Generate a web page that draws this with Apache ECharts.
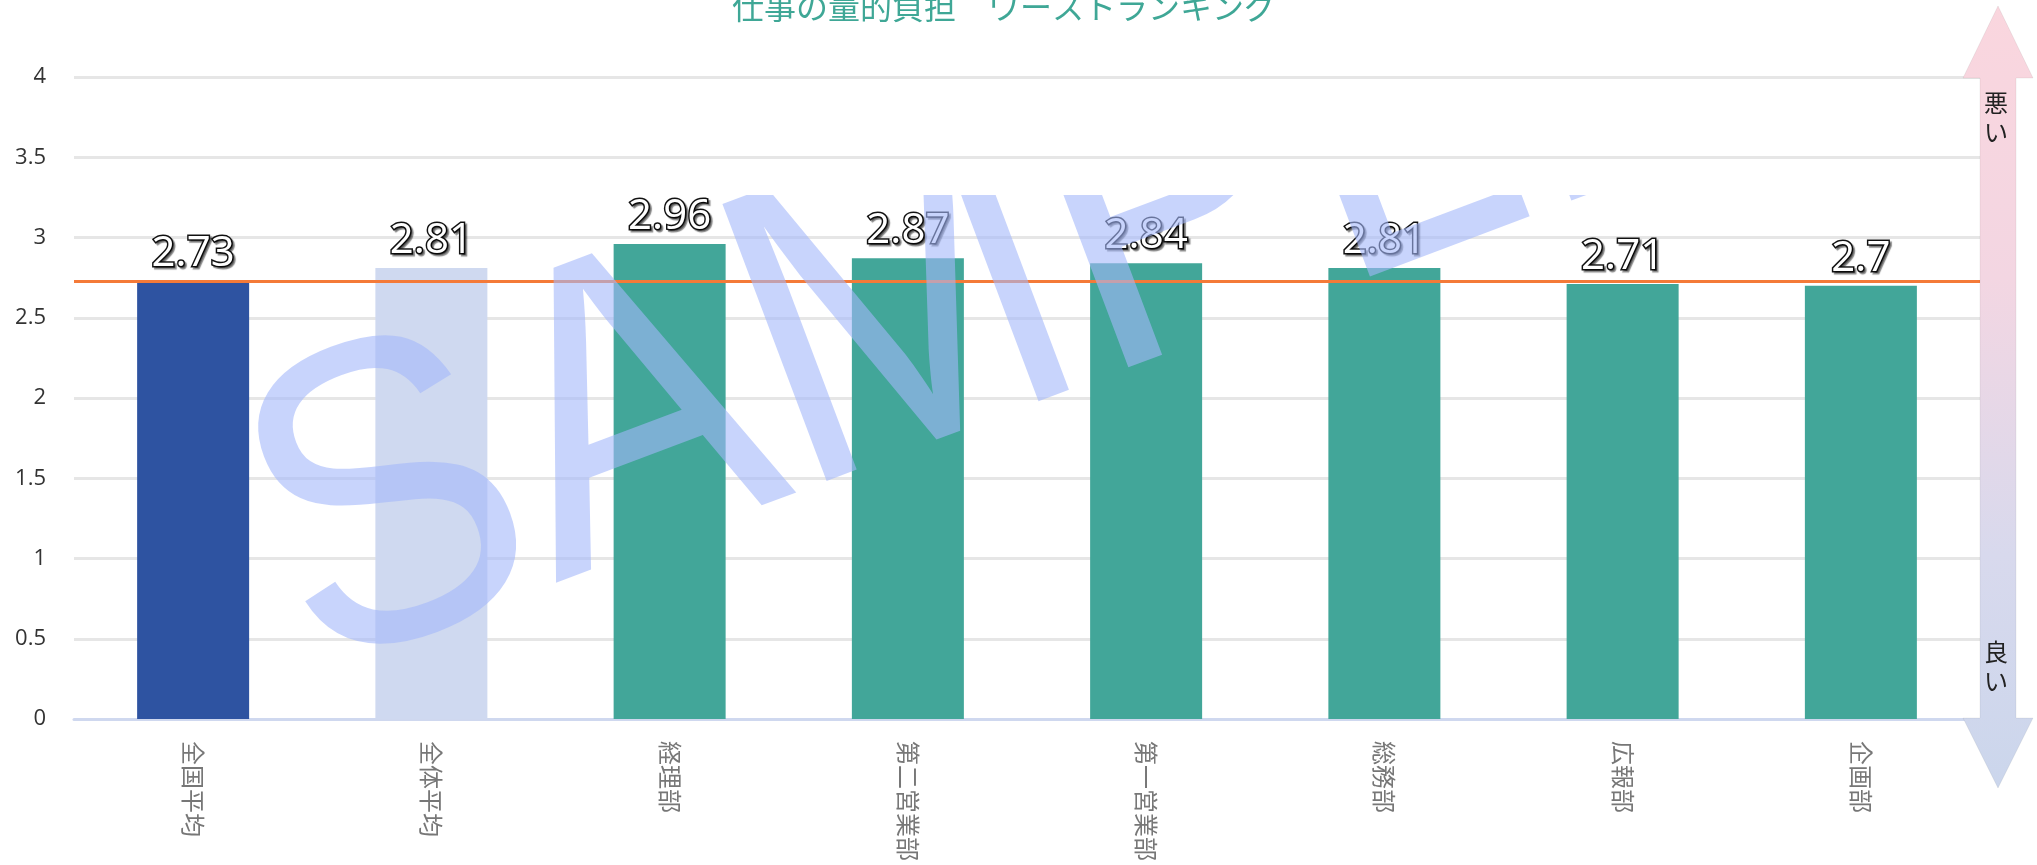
<!DOCTYPE html>
<html>
<head>
<meta charset="utf-8">
<script src="https://cdn.jsdelivr.net/npm/echarts@6/dist/echarts.min.js"></script>
<style>
  html, body { margin: 0; padding: 0; background: #fff; }
  #wrap { position: relative; width: 2037px; height: 865px; }
  #chart { position: absolute; left: 0; top: 0; width: 2037px; height: 865px; }
  #mark { position: absolute; left: 0; top: 195px; width: 2037px; height: 670px; pointer-events: none; }
</style>
</head>
<body>
<div id="wrap">
  <div id="chart"></div>
  <div id="mark"></div>
</div>
<script>
// 仕事の量的負担 ワーストランキング
const categories = ['全国平均', '全体平均', '経理部', '第二営業部', '第一営業部', '総務部', '広報部', '企画部']
const scores = [2.73, 2.81, 2.96, 2.87, 2.84, 2.81, 2.71, 2.7]
const nationalAverage = 2.73
const yMin = 0
const yMax = 4
const yStep = 0.5

const barColor = (i) => (i === 0 ? '#2e53a1' : i === 1 ? '#cfd9f0' : '#42a699')

const chart = echarts.init(document.getElementById('chart'))
chart.setOption({
  animation: false,
  title: {
    text: '仕事の量的負担　ワーストランキング',
    left: 727,
    top: -14,
    textStyle: {
      fontFamily: 'Noto Sans CJK JP',
      fontSize: 32,
      fontWeight: 'normal',
      color: '#3fa796'
    }
  },
  grid: {
    left: 74,
    right: 57,
    top: 77,
    bottom: 146
  },
  xAxis: {
    type: 'category',
    data: categories,
    axisTick: { show: false },
    axisLine: { lineStyle: { color: '#cfd8ef', width: 3 } },
    axisLabel: {
      rotate: -90,
      margin: 22,
      fontFamily: 'Noto Sans CJK JP',
      fontSize: 24,
      color: '#777'
    }
  },
  yAxis: {
    type: 'value',
    min: yMin,
    max: yMax,
    interval: yStep,
    axisLine: { show: false },
    axisTick: { show: false },
    axisLabel: {
      margin: 28,
      fontFamily: 'Open Sans',
      fontSize: 22,
      color: '#333'
    },
    splitLine: { lineStyle: { color: '#e6e6e6', width: 3 } }
  },
  series: [
    {
      type: 'bar',
      barWidth: 112,
      data: scores.map((v, i) => ({ value: v, itemStyle: { color: barColor(i) } })),
      label: {
        show: true,
        position: 'top',
        distance: 6,
        fontFamily: 'Open Sans',
        fontSize: 42,
        color: '#fff',
        textBorderColor: '#111',
        textBorderWidth: 3,
        textShadowColor: 'rgba(0,0,0,0.45)',
        textShadowOffsetX: 2,
        textShadowOffsetY: 2,
        textShadowBlur: 1
      },
      markLine: {
        silent: true,
        symbol: 'none',
        label: { show: false },
        lineStyle: { color: '#f47a38', width: 3, type: 'solid' },
        data: [{ yAxis: nationalAverage }]
      }
    }
  ],
  graphic: [
    {
      type: 'polygon',
      z: 10,
      shape: {
        points: [
          [1998, 6], [2033, 78], [2016, 78], [2016, 718], [2033, 718],
          [1998, 788], [1963, 718], [1980, 718], [1980, 78], [1963, 78]
        ]
      },
      style: {
        fill: new echarts.graphic.LinearGradient(0, 0, 0, 1, [
          { offset: 0, color: '#fad6de' },
          { offset: 0.35, color: '#f3d6e2' },
          { offset: 0.7, color: '#d8d9ed' },
          { offset: 1, color: '#cbd6ec' }
        ]),
        stroke: 'rgba(0,0,0,0.06)',
        lineWidth: 1
      }
    },
    {
      type: 'text',
      z: 11,
      x: 1996,
      y: 88,
      style: {
        text: '悪\nい',
        font: '24px "Noto Sans CJK JP"',
        lineHeight: 29,
        fill: '#222',
        align: 'center'
      }
    },
    {
      type: 'text',
      z: 11,
      x: 1996,
      y: 637,
      style: {
        text: '良\nい',
        font: '24px "Noto Sans CJK JP"',
        lineHeight: 29,
        fill: '#222',
        align: 'center'
      }
    }
  ]
})

// watermark overlay, clipped at its top edge by the container
const mark = echarts.init(document.getElementById('mark'))
mark.setOption({
  animation: false,
  graphic: [
    {
      type: 'text',
      x: 272,
      y: 368,
      rotation: 0.36,
      scaleX: 0.9,
      silent: true,
      style: {
        text: 'SAMPLE',
        font: '430px "Liberation Sans"',
        fill: 'rgba(163,183,250,0.6)',
        align: 'left',
        verticalAlign: 'middle'
      }
    }
  ]
})
</script>
</body>
</html>
